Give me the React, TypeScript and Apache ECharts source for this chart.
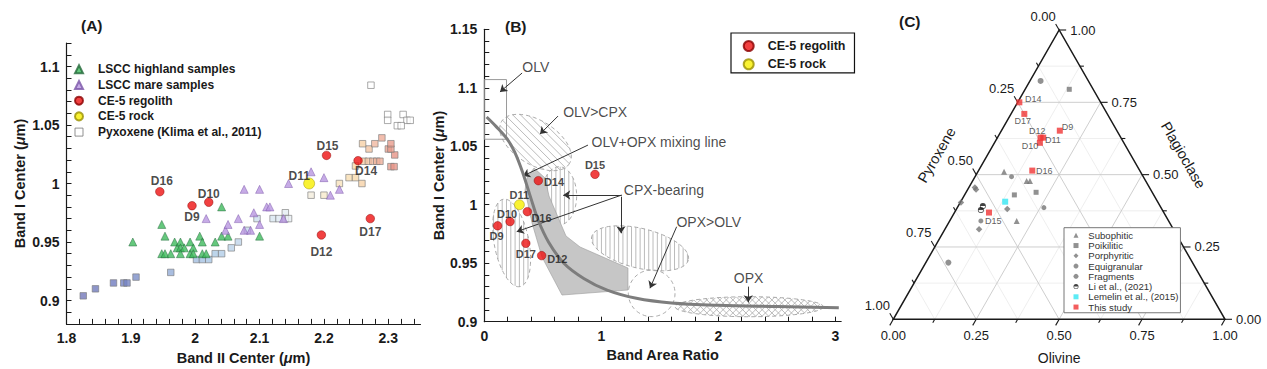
import React, { useEffect, useRef } from "react";
import * as echarts from "echarts";

/* ================= Panel A data ================= */
const LSCC_HIGHLAND: [number, number][] = [
  [1.903, 0.95], [1.948, 0.965], [1.953, 0.955], [1.948, 0.94], [1.953, 0.94], [1.962, 0.94],
  [1.968, 0.95], [1.972, 0.945], [1.977, 0.95], [1.977, 0.945], [1.983, 0.945], [1.977, 0.94],
  [1.992, 0.94], [1.992, 0.95], [1.997, 0.945], [1.997, 0.94], [2.007, 0.955], [2.011, 0.95],
  [2.011, 0.94], [2.017, 0.94], [2.031, 0.95], [2.041, 0.98], [2.041, 0.955], [2.051, 0.955],
  [2.1, 0.955],
];
const LSCC_MARE: [number, number][] = [
  [2.017, 0.97], [2.047, 0.96], [2.051, 0.965], [2.067, 0.97], [2.076, 0.995], [2.076, 0.96],
  [2.086, 0.96], [2.091, 0.975], [2.1, 0.995], [2.1, 0.965], [2.111, 0.98], [2.116, 0.98],
  [2.137, 0.97], [2.145, 1.0], [2.18, 1.01], [2.2, 1.005], [2.21, 0.99], [2.224, 0.995],
];
const PYROXENE_KLIMA: [number, number][] = [
  [1.826, 0.904], [1.845, 0.91], [1.873, 0.915], [1.889, 0.915], [1.894, 0.915], [1.908, 0.92],
  [1.962, 0.924], [2.002, 0.935], [2.011, 0.935], [2.021, 0.935], [2.031, 0.94], [2.041, 0.94],
  [2.056, 0.945], [2.067, 0.95], [2.081, 0.96], [2.096, 0.97], [2.121, 0.97], [2.13, 0.97],
  [2.14, 0.975], [2.14, 0.97], [2.145, 0.97], [2.18, 0.99], [2.2, 0.99], [2.224, 1.0],
  [2.239, 1.005], [2.249, 1.005], [2.259, 1.0], [2.249, 1.015], [2.262, 1.019], [2.269, 1.019],
  [2.276, 1.019], [2.282, 1.019], [2.287, 1.019], [2.304, 1.0144], [2.309, 1.0144], [2.31, 1.0244],
  [2.3, 1.0295], [2.304, 1.0295], [2.27, 1.0295], [2.26, 1.034], [2.279, 1.034], [2.304, 1.034],
  [2.29, 1.039], [2.273, 1.084], [2.299, 1.059], [2.299, 1.054], [2.323, 1.059], [2.329, 1.054],
  [2.334, 1.054], [2.314, 1.0494], [2.32, 1.0494],
];
type P3 = [number, number, string];
const CE5_REGOLITH_A: P3[] = [
  [1.945, 0.993, "D16"], [1.995, 0.981, "D9"], [2.021, 0.984, "D10"], [2.196, 0.956, "D12"],
  [2.272, 0.97, "D17"], [2.204, 1.024, "D15"], [2.253, 1.0195, "D14"],
];
const CE5_ROCK_A: P3[] = [[2.177, 1.0, "D11"]];
const A_X_LABELS = [1.8, 1.9, 2, 2.1, 2.2, 2.3];
const A_Y_LABELS = [0.9, 0.95, 1, 1.05, 1.1];

/* ================= Panel B data ================= */
const CE5_REGOLITH_B: P3[] = [
  [0.462, 1.0206, "D14"], [0.946, 1.026, "D15"], [0.368, 0.9941, "D16"], [0.22, 0.9856, "D10"],
  [0.114, 0.982, "D9"], [0.355, 0.967, "D17"], [0.49, 0.9565, "D12"],
];
const CE5_ROCK_B: P3[] = [[0.3, 1.0, "D11"]];
const MIXING_LINE: [number, number][] = [
  [0.02, 1.075], [0.1, 1.067], [0.19, 1.057], [0.26, 1.045], [0.33, 1.027], [0.4, 1.005],
  [0.46, 0.987], [0.55, 0.968], [0.68, 0.95], [0.85, 0.937], [1.05, 0.927], [1.3, 0.92],
  [1.6, 0.916], [2.0, 0.914], [2.5, 0.913], [3.03, 0.912],
];
const OLV_BOX: [number, number][] = [[0, 1.107], [0.19, 1.056]];
const MIXING_AREA: [number, number][] = [
  [0.425, 1.0314], [0.519, 1.0229], [0.553, 1.0075], [0.698, 0.9733], [0.818, 0.9639],
  [1.228, 0.9459], [1.228, 0.9271], [0.664, 0.9228], [0.493, 0.9553], [0.408, 0.9844],
  [0.348, 1.0126], [0.365, 1.0229],
];
// ellipse regions: ends of the long axis (data units), minor/major ratio, hatch type
const B_REGIONS = [
  { p1: [0.148, 1.0713], p2: [0.727, 1.0351], ratio: 0.55, hatch: "diag" },
  { p1: [0.162, 1.0047], p2: [0.305, 0.93], ratio: 0.39, hatch: "vert" },
  { p1: [0.64, 1.0325], p2: [0.64, 0.9827], ratio: 0.6, hatch: "vert" },
  { p1: [0.918, 0.9727], p2: [1.744, 0.9528], ratio: 0.4, hatch: "vert" },
  { p1: [1.231, 0.9243], p2: [1.63, 0.9243], ratio: 1, hatch: "none" },
  { p1: [1.63, 0.9128], p2: [2.897, 0.9128], ratio: 0.135, hatch: "cross" },
];
const B_ARROWS: [number, number][][] = [
  [[0.323, 1.1126], [0.134, 1.0964]],
  [[0.63, 1.0758], [0.476, 1.0604]],
  [[0.886, 1.051], [0.331, 1.0246]],
  [[1.174, 1.0083], [0.675, 1.0083]],
  [[1.174, 1.0083], [0.277, 0.977]],
  [[1.168, 1.0069], [1.168, 0.9756]],
  [[1.644, 0.9812], [1.416, 0.9286]],
  [[2.256, 0.93], [2.256, 0.9166]],
];
const B_NOTES: [string, number, number][] = [
  ["OLV", 0.32, 1.118], ["OLV>CPX", 0.67, 1.0796], ["OLV+OPX mixing line", 0.912, 1.0539],
  ["CPX-bearing", 1.188, 1.0126], ["OPX>OLV", 1.638, 0.9855], ["OPX", 2.128, 0.937],
];
const B_X_LABELS = [0, 1, 2, 3];
const B_Y_LABELS = [0.9, 0.95, 1, 1.05, 1.1, 1.15];

/* ================= Panel C data: [olivine, pyroxene, plagioclase] ================= */
const SUBOPHITIC: number[][] = [[0.079, 0.411, 0.51], [0.163, 0.359, 0.478], [0.173, 0.349, 0.478], [0.202, 0.458, 0.34]];
const POIKILITIC: number[][] = [[0.133, 0.072, 0.795], [0.211, 0.35, 0.439], [0.15, 0.42, 0.43]];
const PORPHYRITIC: number[][] = [[0.018, 0.526, 0.456], [0.025, 0.526, 0.449], [0.002, 0.594, 0.404], [0.153, 0.466, 0.381], [0.103, 0.586, 0.311]];
const EQUIGRANULAR: number[][] = [[0.11, 0.397, 0.493], [0.261, 0.353, 0.386], [0.094, 0.566, 0.34]];
const FRAGMENTS: number[][] = [[0.032, 0.144, 0.824], [0.068, 0.736, 0.196]];
const LI_2021: number[][] = [[0.074, 0.534, 0.392], [0.075, 0.547, 0.378]];
const LEMELIN_2015: number[][] = [[0.134, 0.4595, 0.4065]];
const THIS_STUDY: [number, number, number, string][] = [
  [0.005, 0.245, 0.75, "D14"], [0.04, 0.25, 0.71, "D17"], [0.176, 0.172, 0.652, "D9"],
  [0.13, 0.242, 0.628, "D12"], [0.138, 0.234, 0.628, "D11"], [0.137, 0.253, 0.61, "D10"],
  [0.162, 0.324, 0.514, "D16"], [0.104, 0.527, 0.369, "D15"],
];
const TERN_STEPS = [0, 0.125, 0.25, 0.375, 0.5, 0.625, 0.75, 0.875, 1];
const TERN_LABELS = [0, 0.25, 0.5, 0.75, 1];

/* ================= styling helpers ================= */
const FONT = '"Liberation Sans", Arial, Helvetica, sans-serif';
const INK = "#1a1a1a";

const LABEL_POS_A: Record<string, [string, number, number]> = {
  D16: ["top", 2, 1], D10: ["top", 0, 3], D9: ["bottom", 0, 0], D11: ["top", -10, 5],
  D15: ["top", 1, 2], D14: ["bottom", 8, -1], D12: ["bottom", 0, 5.5], D17: ["bottom", 0, 1.5],
};
const LABEL_POS_B: Record<string, [string, number, number]> = {
  D14: ["right", 0, 1.6], D15: ["top", 0, 1.5], D11: ["top", 0, 2], D16: ["right", -1.5, 6],
  D10: ["top", -3, 3], D9: ["bottom", -1, -1], D17: ["bottom", 0, 0], D12: ["right", 0, 3.6],
};
const LABEL_POS_C: Record<string, [string, number, number]> = {
  D14: ["right", 1.7, -3.7], D17: ["bottom", -1.6, -1], D9: ["right", -2, -3.4], D12: ["top", -3.4, 1.8],
  D11: ["right", -2.3, 2.6], D10: ["left", 2.3, 3], D16: ["right", -0.3, 0], D15: ["bottom", 4.3, 0],
};

const PYX_STOPS: [number, string][] = [
  [1.82, "#7378b8"], [1.88, "#6f7cc0"], [1.95, "#90a8d4"], [2.02, "#a8c6e4"], [2.1, "#cfe0ee"],
  [2.15, "#eaf0f4"], [2.2, "#f7eacc"], [2.255, "#f7d7a8"], [2.28, "#f0b7a0"], [2.32, "#e48a80"],
];
function hex(c: string) {
  return [1, 3, 5].map((i) => parseInt(c.slice(i, i + 2), 16));
}
function pyxColor(x: number, y: number) {
  if (y > 1.045) return "#ffffff";
  if (x <= PYX_STOPS[0][0]) return PYX_STOPS[0][1];
  for (let i = 1; i < PYX_STOPS.length; i++) {
    if (x <= PYX_STOPS[i][0]) {
      const [x0, c0] = PYX_STOPS[i - 1];
      const [x1, c1] = PYX_STOPS[i];
      const t = (x - x0) / (x1 - x0);
      const a = hex(c0), b = hex(c1);
      const m = a.map((v, k) => Math.round(v + (b[k] - v) * t));
      return `rgb(${m[0]},${m[1]},${m[2]})`;
    }
  }
  return PYX_STOPS[PYX_STOPS.length - 1][1];
}

function ticks(a: number, b: number, s: number) {
  const out: number[] = [];
  const n = Math.round((b - a) / s);
  for (let i = 0; i <= n; i++) out.push(+(a + i * s).toFixed(4));
  return out;
}
const fmt = (v: number) => String(+(+v).toFixed(2));

function valueAxis(gridIndex: number, min: number, max: number, tk: number[], lb: number[], name: string, nameGap: number) {
  return {
    type: "value", gridIndex, min, max, name, nameLocation: "middle", nameGap,
    nameTextStyle: {
      fontFamily: FONT, fontSize: 14.5, fontWeight: "bold", color: INK,
      rich: { mu: { fontFamily: FONT, fontSize: 14.5, fontWeight: "bold", fontStyle: "italic", color: INK } },
    },
    axisLine: { show: true, onZero: false, lineStyle: { color: INK, width: 1.2 } },
    axisTick: { show: true, inside: true, length: 5, customValues: tk, lineStyle: { color: INK, width: 1 } },
    minorTick: { show: false },
    axisLabel: { show: true, customValues: lb, formatter: fmt, fontFamily: FONT, fontSize: 14, fontWeight: "bold", color: INK, margin: 7 },
    splitLine: { show: false },
  };
}

function labeled(pts: P3[], pos: Record<string, [string, number, number]>) {
  return pts.map(([x, y, n]) => ({
    value: [x, y], name: n,
    label: { position: pos[n][0], offset: [pos[n][1], pos[n][2]] },
  }));
}

const tern = (ol: number, pl: number) => [ol + pl / 2, pl];

function ellipseChildren(P1: number[], P2: number[], ratio: number, hatch: string) {
  const cx = (P1[0] + P2[0]) / 2, cy = (P1[1] + P2[1]) / 2;
  const dx = P2[0] - P1[0], dy = P2[1] - P1[1];
  const a = Math.hypot(dx, dy) / 2, b = a * ratio;
  const ux = dx / (2 * a), uy = dy / (2 * a), vx = -uy, vy = ux;
  const pts: number[][] = [];
  for (let i = 0; i < 90; i++) {
    const t = (2 * Math.PI * i) / 90;
    pts.push([cx + a * Math.cos(t) * ux + b * Math.sin(t) * vx, cy + a * Math.cos(t) * uy + b * Math.sin(t) * vy]);
  }
  const ch: any[] = [];
  const s2 = Math.SQRT1_2;
  const dirs = hatch === "vert" ? [[0, 1]] : hatch === "diag" ? [[s2, s2]] : hatch === "cross" ? [[s2, s2], [s2, -s2]] : [];
  const spacing = hatch === "vert" ? 4.3 : hatch === "diag" ? 5.5 : 4.6;
  for (const [ddx, ddy] of dirs) {
    const nx = -ddy, ny = ddx;
    for (let k = -a - 2; k <= a + 2; k += spacing) {
      const qx = cx + k * nx, qy = cy + k * ny;
      const a0 = ((qx - cx) * ux + (qy - cy) * uy) / a, a1 = (ddx * ux + ddy * uy) / a;
      const b0 = ((qx - cx) * vx + (qy - cy) * vy) / b, b1 = (ddx * vx + ddy * vy) / b;
      const A = a1 * a1 + b1 * b1, B = 2 * (a0 * a1 + b0 * b1), C = a0 * a0 + b0 * b0 - 1;
      const disc = B * B - 4 * A * C;
      if (disc <= 0) continue;
      const sq = Math.sqrt(disc);
      const l1 = (-B - sq) / (2 * A), l2 = (-B + sq) / (2 * A);
      ch.push({
        type: "line",
        shape: { x1: qx + l1 * ddx, y1: qy + l1 * ddy, x2: qx + l2 * ddx, y2: qy + l2 * ddy },
        style: { stroke: "#a9a9a9", lineWidth: 0.8 },
      });
    }
  }
  ch.push({ type: "polygon", shape: { points: pts }, style: { fill: "none", stroke: "#a0a0a0", lineWidth: 0.9, lineDash: [4, 3] } });
  return ch;
}

function ctext(s: string, x: number, y: number, align: string, va: string, size: number, extra: any = {}) {
  return {
    type: "text", x, y, ...extra,
    style: {
      text: s, x: 0, y: 0, fill: INK, font: `${size}px ${FONT}`,
      align, verticalAlign: va, textAlign: align, textVerticalAlign: va,
    },
  };
}

function renderTernFrame(_params: any, api: any) {
  const P = (ol: number, pl: number) => api.coord(tern(ol, pl));
  const ch: any[] = [];
  const isMajor = (t: number) => Math.abs(t * 4 - Math.round(t * 4)) < 1e-6;
  const seg = (p: number[], q: number[], stroke: string, w: number) =>
    ch.push({ type: "line", shape: { x1: p[0], y1: p[1], x2: q[0], y2: q[1] }, style: { stroke, lineWidth: w } });
  for (const pass of [false, true]) {
    for (const t of TERN_STEPS) {
      if (t === 0 || t === 1 || isMajor(t) !== pass) continue;
      const col = pass ? "#c8c8c8" : "#e6e6e6";
      const w = pass ? 0.9 : 0.7;
      seg(P(0, t), P(1 - t, t), col, w);
      seg(P(t, 0), P(t, 1 - t), col, w);
      seg(P(1 - t, 0), P(0, 1 - t), col, w);
    }
  }
  ch.push({ type: "polygon", shape: { points: [P(0, 0), P(1, 0), P(0, 1)] }, style: { fill: "none", stroke: INK, lineWidth: 1.5 } });
  for (const t of TERN_STEPS) {
    const L = isMajor(t) ? 7 : 4;
    const r = P(1 - t, t);
    seg(r, [r[0] + L, r[1]], INK, 1.1);
    const l = P(0, 1 - t);
    seg(l, [l[0] - 0.5 * L, l[1] - 0.866 * L], INK, 1.1);
    const b = P(t, 0);
    seg(b, [b[0] - 0.5 * L, b[1] + 0.866 * L], INK, 1.1);
  }
  for (const t of TERN_LABELS) {
    const s = t.toFixed(2);
    const b = P(t, 0);
    ch.push(ctext(s, b[0], b[1] + 16, "center", "middle", 13));
    const r = P(1 - t, t);
    ch.push(ctext(s, r[0] + 11, r[1], "left", "middle", 13));
    const l = P(0, 1 - t);
    ch.push(ctext(s, l[0] - 16, l[1] - 14, "center", "middle", 13));
  }
  const bm = P(0.5, 0);
  ch.push(ctext("Olivine", bm[0], bm[1] + 39, "center", "middle", 14));
  const lm = P(0, 0.5);
  ch.push(ctext("Pyroxene", lm[0] - 39.5, lm[1] - 19.6, "center", "middle", 14.5, { rotation: Math.PI / 3 }));
  const rm = P(0.5, 0.5);
  ch.push(ctext("Plagioclase", rm[0] + 41.2, rm[1] - 19.6, "center", "middle", 14.5, { rotation: -Math.PI / 3 }));
  return { type: "group", children: ch };
}

function buildOption() {
  const A_X_TICKS = ticks(1.8, 2.34, 0.02);
  const A_Y_TICKS = ticks(0.88, 1.12, 0.01);
  const B_X_TICKS = ticks(0, 3, 0.2);
  const B_Y_TICKS = ticks(0.9, 1.15, 0.01);

  const grayPt = { color: "#767676", borderColor: "#767676", borderWidth: 0 };
  const ternSeries = (name: string, arr: number[][], symbol: string, size: number, itemStyle: any) => ({
    name, type: "scatter", xAxisIndex: 2, yAxisIndex: 2, symbol, symbolSize: size, itemStyle,
    data: arr.map((p) => tern(p[0], p[2])), z: 4,
  });

  return {
    animation: false,
    backgroundColor: "#ffffff",
    textStyle: { fontFamily: FONT },
    grid: [
      { left: 66.5, top: 43.1, width: 354, height: 280.8, outerBoundsMode: "none" },
      { left: 484.3, top: 29.3, width: 356.85, height: 292.4, outerBoundsMode: "none" },
      { left: 893.3, top: 30, width: 331.7, height: 289.3, outerBoundsMode: "none" },
    ],
    xAxis: [
      valueAxis(0, 1.8, 2.35, A_X_TICKS, A_X_LABELS, "Band II Center ({mu|μ}m)", 27),
      valueAxis(1, 0, 3.05, B_X_TICKS, B_X_LABELS, "Band Area Ratio", 26),
      { type: "value", gridIndex: 2, min: 0, max: 1, show: false },
    ],
    yAxis: [
      valueAxis(0, 0.88, 1.12, A_Y_TICKS, A_Y_LABELS, "Band I Center ({mu|μ}m)", 39),
      valueAxis(1, 0.9, 1.15, B_Y_TICKS, B_Y_LABELS, "Band I Center ({mu|μ}m)", 38),
      { type: "value", gridIndex: 2, min: 0, max: 1, show: false },
    ],
    legend: [
      {
        orient: "vertical", left: 74, top: 63.3, padding: 0, itemGap: 3.7, itemWidth: 8, itemHeight: 8,
        selectedMode: false, symbolKeepAspect: true,
        textStyle: { fontFamily: FONT, fontSize: 12, fontWeight: "bold", color: INK, lineHeight: 12, padding: [0, 0, 0, 10] },
        data: [
          "LSCC highland samples", "LSCC mare samples", "CE-5 regolith", "CE-5 rock",
          { name: "Pyxoxene (Klima et al., 2011)", icon: "rect", itemStyle: { color: "#ffffff", borderColor: "#777777", borderWidth: 1 } },
        ],
      },
      {
        orient: "vertical", left: 731, top: 33, padding: [6, 9, 1.5, 11.7], itemGap: 4.3, itemWidth: 10, itemHeight: 10,
        selectedMode: false, symbolKeepAspect: true, borderColor: "#111111", borderWidth: 1.2, backgroundColor: "#ffffff",
        textStyle: { fontFamily: FONT, fontSize: 12.5, fontWeight: "bold", color: INK, lineHeight: 14, padding: [0, 0, 0, 9] },
        data: ["CE-5 regolith", "CE-5 rock"],
      },
      {
        orient: "vertical", left: 1064, top: 227.7, padding: [2.6, 2, 0.7, 9.5], itemGap: 0.25, itemWidth: 5, itemHeight: 5,
        selectedMode: false, symbolKeepAspect: true, borderColor: "#777777", borderWidth: 1, backgroundColor: "#ffffff",
        textStyle: { fontFamily: FONT, fontSize: 9.6, color: "#333333", lineHeight: 10, padding: [0, 0, 0, 4.8] },
        data: ["Subophitic", "Poikilitic", "Porphyritic", "Equigranular", "Fragments", "Li et al., (2021)", "Lemelin et al., (2015)", "This study"],
      },
    ],
    graphic: [
      { type: "text", left: 81, top: 17, style: { text: "(A)", font: `bold 15.5px ${FONT}`, fill: INK } },
      { type: "text", left: 505, top: 18.7, style: { text: "(B)", font: `bold 15.5px ${FONT}`, fill: INK } },
      { type: "text", left: 899, top: 13.7, style: { text: "(C)", font: `bold 15.5px ${FONT}`, fill: INK } },
    ],
    series: [
      /* ---------- A ---------- */
      {
        name: "Pyxoxene (Klima et al., 2011)", type: "scatter", xAxisIndex: 0, yAxisIndex: 0, symbol: "rect", symbolSize: 6.5,
        itemStyle: { color: (p: any) => pyxColor(p.value[0], p.value[1]), borderColor: "#7a7a7a", borderWidth: 0.8 },
        data: PYROXENE_KLIMA,
      },
      {
        name: "LSCC highland samples", type: "scatter", xAxisIndex: 0, yAxisIndex: 0, symbol: "triangle", symbolSize: 8,
        itemStyle: { color: "#3fba5c", borderColor: "#23683a", borderWidth: 0.6 }, data: LSCC_HIGHLAND,
      },
      {
        name: "LSCC mare samples", type: "scatter", xAxisIndex: 0, yAxisIndex: 0, symbol: "triangle", symbolSize: 8,
        itemStyle: { color: "#b896e0", borderColor: "#7a55a8", borderWidth: 0.6 }, data: LSCC_MARE,
      },
      {
        name: "CE-5 regolith", type: "scatter", xAxisIndex: 0, yAxisIndex: 0, symbol: "circle", symbolSize: 8.5, z: 5,
        itemStyle: { color: "#ee1111", borderColor: "#8a0000", borderWidth: 0.6 },
        label: { show: true, formatter: "{b}", fontFamily: FONT, fontSize: 12, fontWeight: "bold", color: INK, distance: 1 },
        data: labeled(CE5_REGOLITH_A, LABEL_POS_A),
      },
      {
        name: "CE-5 rock", type: "scatter", xAxisIndex: 0, yAxisIndex: 0, symbol: "circle", symbolSize: 11, z: 5,
        itemStyle: { color: "#f8ef00", borderColor: "#9a9000", borderWidth: 0.6 },
        label: { show: true, formatter: "{b}", fontFamily: FONT, fontSize: 12, fontWeight: "bold", color: INK, distance: 1 },
        data: labeled(CE5_ROCK_A, LABEL_POS_A),
      },
      /* ---------- B ---------- */
      {
        name: "B regions", type: "custom", xAxisIndex: 1, yAxisIndex: 1, silent: true,
        data: B_REGIONS.map((r) => [r.p1[0], r.p1[1], r.p2[0], r.p2[1]]),
        renderItem: (params: any, api: any) => {
          const r = B_REGIONS[params.dataIndex];
          const p1 = api.coord([api.value(0), api.value(1)]);
          const p2 = api.coord([api.value(2), api.value(3)]);
          return { type: "group", children: ellipseChildren(p1, p2, r.ratio, r.hatch) };
        },
      },
      {
        name: "B areas", type: "custom", xAxisIndex: 1, yAxisIndex: 1, silent: true, data: [[0, 0]],
        renderItem: (_p: any, api: any) => {
          const b1 = api.coord(OLV_BOX[0]);
          const b2 = api.coord(OLV_BOX[1]);
          return {
            type: "group",
            children: [
              { type: "polygon", shape: { points: MIXING_AREA.map((p) => api.coord(p)) }, style: { fill: "#c6c6c6", stroke: "#9a9a9a", lineWidth: 0.6 } },
              { type: "rect", shape: { x: b1[0], y: b1[1], width: b2[0] - b1[0], height: b2[1] - b1[1] }, style: { fill: "none", stroke: "#9a9a9a", lineWidth: 1 } },
            ],
          };
        },
      },
      {
        name: "OLV+OPX mixing line", type: "line", xAxisIndex: 1, yAxisIndex: 1, smooth: 0.35, showSymbol: false, silent: true,
        lineStyle: { color: "#7d7d7d", width: 3 }, data: MIXING_LINE,
      },
      {
        name: "arrows", type: "lines", coordinateSystem: "cartesian2d", xAxisIndex: 1, yAxisIndex: 1, silent: true,
        symbol: ["none", "arrow"], symbolSize: 7, lineStyle: { color: "#333333", width: 1, opacity: 1, curveness: 0 },
        data: B_ARROWS.map((c) => ({ coords: c })), z: 3,
      },
      {
        name: "notes", type: "scatter", xAxisIndex: 1, yAxisIndex: 1, symbolSize: 1, silent: true,
        itemStyle: { color: "rgba(0,0,0,0)" },
        label: { show: true, position: "right", distance: 0, formatter: "{b}", fontFamily: FONT, fontSize: 14, color: INK },
        data: B_NOTES.map(([t, x, y]) => ({ value: [x, y], name: t })),
      },
      {
        name: "CE-5 regolith", type: "scatter", xAxisIndex: 1, yAxisIndex: 1, symbol: "circle", symbolSize: 8.5, z: 5,
        itemStyle: { color: "#ee1111", borderColor: "#8a0000", borderWidth: 0.6 },
        label: { show: true, formatter: "{b}", fontFamily: FONT, fontSize: 11, fontWeight: "bold", color: INK, distance: 1 },
        data: labeled(CE5_REGOLITH_B, LABEL_POS_B),
      },
      {
        name: "CE-5 rock", type: "scatter", xAxisIndex: 1, yAxisIndex: 1, symbol: "circle", symbolSize: 10, z: 5,
        itemStyle: { color: "#f8ef00", borderColor: "#9a9000", borderWidth: 0.6 },
        label: { show: true, formatter: "{b}", fontFamily: FONT, fontSize: 11, fontWeight: "bold", color: INK, distance: 1 },
        data: labeled(CE5_ROCK_B, LABEL_POS_B),
      },
      /* ---------- C ---------- */
      {
        name: "ternary frame", type: "custom", xAxisIndex: 2, yAxisIndex: 2, silent: true, data: [[0, 0]],
        renderItem: renderTernFrame, z: 1,
      },
      ternSeries("Subophitic", SUBOPHITIC, "triangle", 6, grayPt),
      ternSeries("Poikilitic", POIKILITIC, "rect", 5, grayPt),
      ternSeries("Porphyritic", PORPHYRITIC, "diamond", 6.5, grayPt),
      ternSeries("Equigranular", EQUIGRANULAR, "circle", 5, grayPt),
      ternSeries("Fragments", FRAGMENTS, "circle", 6, grayPt),
      ternSeries("Li et al., (2021)", LI_2021, "path://M0,5 A5,5 0 0 1 10,5 Z M0,5 A5,5 0 0 0 10,5 L9,5 A4,4 0 0 1 1,5 Z", 6, { color: "#111111" }),
      ternSeries("Lemelin et al., (2015)", LEMELIN_2015, "rect", 6, { color: "#33e6f2" }),
      {
        name: "This study", type: "scatter", xAxisIndex: 2, yAxisIndex: 2, symbol: "rect", symbolSize: 6, z: 5,
        itemStyle: { color: "#f03434" },
        label: { show: true, formatter: "{b}", fontFamily: FONT, fontSize: 9, color: "#333333", distance: 1 },
        data: THIS_STUDY.map(([ol, _px, pl, n]) => ({
          value: tern(ol, pl), name: n,
          label: { position: LABEL_POS_C[n][0], offset: [LABEL_POS_C[n][1], LABEL_POS_C[n][2]] },
        })),
      },
    ],
  };
}

export default function App() {
  const ref = useRef<HTMLDivElement>(null);
  useEffect(() => {
    if (!ref.current) return;
    const chart = echarts.init(ref.current, undefined, { renderer: "svg" });
    chart.setOption(buildOption() as any);
    return () => chart.dispose();
  }, []);
  return (
    <div
      ref={ref}
      style={{ position: "absolute", left: 0, top: 0, width: 1267, height: 369, background: "#ffffff" }}
    />
  );
}
